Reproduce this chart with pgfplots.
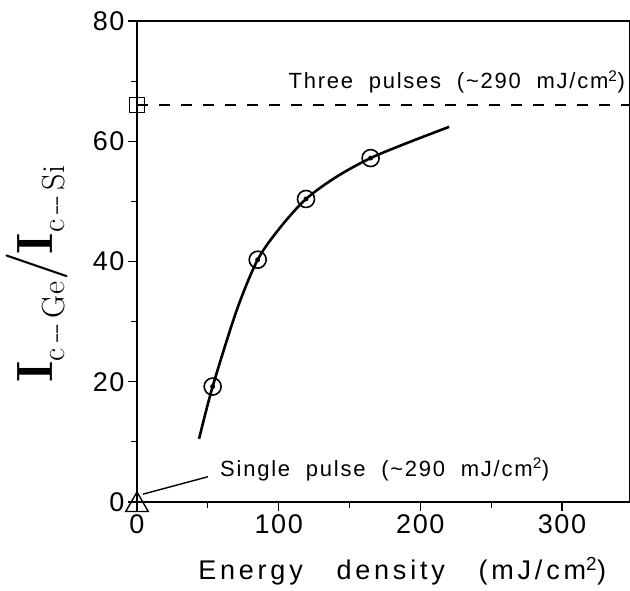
\documentclass[border=0pt]{standalone}
\usepackage[no-math]{fontspec}
\setmainfont{Liberation Sans}
\newfontfamily\widefont[LetterSpace=14]{Liberation Sans}
\newfontfamily\annfont[LetterSpace=8]{Liberation Sans}
\newfontfamily\tickfont[LetterSpace=6]{Liberation Sans}
\newfontfamily\lmr{Latin Modern Roman}
\usepackage{pgfplots}
\pgfplotsset{compat=1.18}
\newcommand{\sub}[1]{\raisebox{-12pt}{\fontsize{32}{34}\selectfont #1}}
\begin{document}
\begin{tikzpicture}
\useasboundingbox (-137pt,-88pt) rectangle (493pt,502pt);
\begin{axis}[
  scale only axis, width=493pt, height=481pt,
  xmin=0, xmax=348, ymin=0, ymax=80,
  xtick={0,100,200,300}, ytick={0,20,40,60,80},
  minor xtick={50,150,250}, minor ytick={10,30,50,70},
  tick pos=left, tick align=outside,
  major tick length=9pt, minor tick length=6pt,
  tick style={line width=1.2pt, black},
  axis line style={line width=1.5pt},
  ticklabel style={font=\tickfont\fontsize{27}{28}\selectfont},
  /pgf/number format/assume math mode=true,
  clip=false,
  xlabel={Energy\ \ \ density\ \ \ (mJ/cm\textsuperscript{2})},
  xlabel style={at={(axis description cs:0.538,-0.143)}, anchor=center,
    font=\widefont\fontsize{27}{29}\selectfont},
  ylabel={\textbf{I}\sub{c\,--\,Ge}\kern1pt{\fontsize{62}{62}\selectfont/}\kern-2pt\textbf{I}\sub{c\,--\,Si}},
  ylabel style={at={(axis description cs:-0.203,0.474)}, anchor=center,
    font=\lmr\fontsize{51}{52}\selectfont},
]
% fitted curve
\addplot[black, line width=2.6pt, smooth] coordinates {
  (43.8,10.5) (53.4,19.2) (70.4,31.9) (85.2,40.3) (100.9,45.6) (119.3,50.4)
  (140.9,54.1) (164.9,57.2) (192.7,59.9) (220.4,62.4)};
% data points
\addplot[only marks, mark=o, mark size=8.5pt, mark options={line width=1.6pt, fill=white}]
  coordinates {(53.4,19.2) (85.2,40.3) (119.3,50.4) (164.9,57.2)};
\addplot[only marks, mark=*, mark size=2.2pt]
  coordinates {(53.4,19.2) (85.2,40.3) (119.3,50.4) (164.9,57.2)};
% three pulses
\addplot[black, line width=1.4pt, dash pattern=on 11pt off 11pt] coordinates {(0,66) (348,66)};
\addplot[only marks, mark=square, mark size=7.5pt, mark options={line width=1.4pt, fill=white, solid}]
  coordinates {(0,66)};
% single pulse
\addplot[only marks, mark=triangle, mark size=13pt, mark options={line width=1.4pt}]
  coordinates {(0,-0.5)};
\draw[line width=1.4pt] (axis cs:4.2,1.3) -- (axis cs:50,4.2);
\node[anchor=west, font=\annfont\fontsize{22}{24}\selectfont, inner sep=0pt]
  at (axis cs:58.6,5.4) {Single\ \ pulse\ \ (\textasciitilde290\ \ mJ/cm\textsuperscript{2})};
\node[anchor=east, font=\annfont\fontsize{22}{24}\selectfont, inner sep=0pt]
  at (axis cs:344.5,69.9) {Three\ \ pulses\ \ (\textasciitilde290\ \ mJ/cm\textsuperscript{2})};
\end{axis}
\end{tikzpicture}
\end{document}
